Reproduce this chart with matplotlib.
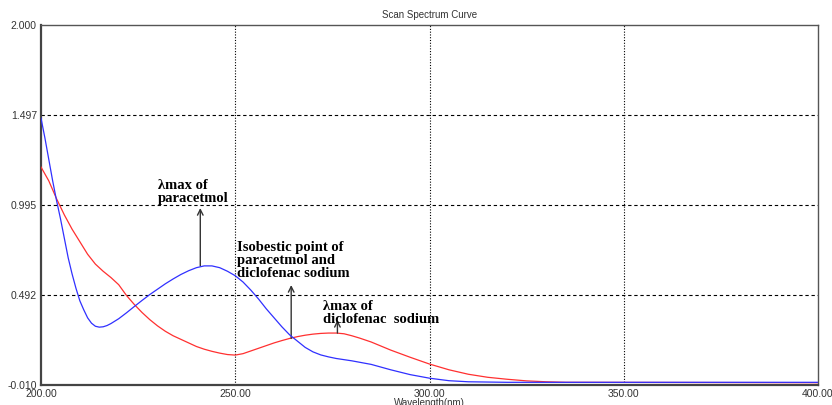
import matplotlib.pyplot as plt
import numpy as np

# absorbance spectra
wl_para = [200, 201, 202, 203, 204, 205, 206, 207, 208, 209, 210, 211, 212, 213, 214, 215,
           216, 217, 218, 220, 222, 224, 226, 228, 230, 232, 234, 236, 238, 240, 242, 244,
           246, 248, 250, 252, 254, 256, 258, 260, 262, 264, 266, 268, 270, 272, 274, 276,
           280, 285, 290, 295, 300, 305, 310, 320, 400]
abs_para = [1.48, 1.37, 1.25, 1.13, 1.02, 0.92, 0.81, 0.70, 0.61, 0.53, 0.46, 0.41, 0.365,
            0.335, 0.318, 0.313, 0.315, 0.322, 0.333, 0.36, 0.393, 0.428, 0.462, 0.495, 0.525,
            0.555, 0.582, 0.607, 0.628, 0.645, 0.655, 0.655, 0.645, 0.625, 0.60, 0.565, 0.52,
            0.47, 0.415, 0.365, 0.315, 0.27, 0.235, 0.20, 0.175, 0.158, 0.147, 0.138, 0.125,
            0.105, 0.075, 0.048, 0.028, 0.014, 0.008, 0.005, 0.005]

wl_diclo = [200, 202, 204, 206, 208, 210, 212, 214, 216, 218, 220, 222, 224, 226, 228, 230,
            232, 234, 236, 238, 240, 242, 244, 246, 248, 250, 252, 254, 256, 258, 260, 262,
            264, 266, 268, 270, 272, 274, 276, 278, 280, 282, 285, 290, 295, 300, 305, 310,
            315, 320, 325, 330, 335, 400]
abs_diclo = [1.207, 1.13, 1.03, 0.94, 0.86, 0.79, 0.72, 0.665, 0.625, 0.59, 0.55, 0.49, 0.44,
             0.395, 0.355, 0.32, 0.29, 0.265, 0.245, 0.225, 0.205, 0.19, 0.178, 0.168, 0.16,
             0.157, 0.165, 0.18, 0.195, 0.21, 0.225, 0.238, 0.25, 0.26, 0.268, 0.274, 0.278,
             0.28, 0.28, 0.276, 0.265, 0.252, 0.23, 0.185, 0.145, 0.107, 0.075, 0.05, 0.033,
             0.022, 0.013, 0.008, 0.005, 0.003]

yticks = [-0.010, 0.492, 0.995, 1.497, 2.000]
xticks = [200, 250, 300, 350, 400]

fig = plt.figure(figsize=(8.32, 4.05), dpi=100)
ax = fig.add_axes([41/832, 1-385/405, (818-41)/832, (385-25)/405])

ax.plot(wl_diclo, abs_diclo, color='#ff3030', lw=0.9, zorder=3)
ax.plot(wl_para, abs_para, color='#3030ff', lw=0.9, zorder=4)

ax.set_xlim(200, 400)
ax.set_ylim(-0.010, 2.000)
ax.set_xticks(xticks)
ax.set_xticklabels(['%.2f' % v for v in xticks])
ax.set_yticks(yticks)
ax.set_yticklabels(['%.3f' % v for v in yticks])
ax.tick_params(length=0, labelsize=7.5, labelcolor='#333333', pad=3)
for lab in ax.get_xticklabels() + ax.get_yticklabels():
    lab.set_family('Liberation Sans')

for v in xticks[1:-1]:
    ax.axvline(v, color='black', ls=(0, (1, 1.5)), lw=0.8, zorder=1)
for v in yticks[1:-1]:
    ax.axhline(v, color='black', ls=(0, (3, 2.5)), lw=0.8, zorder=1)

for s in ['left', 'bottom']:
    ax.spines[s].set_color('#444444')
    ax.spines[s].set_linewidth(1.6)
for s in ['top', 'right']:
    ax.spines[s].set_color('#555555')
    ax.spines[s].set_linewidth(1.0)

fig.text(0.516, 1-15/405, 'Scan Spectrum Curve', ha='center', va='center',
         fontsize=7, color='#333333', family='Liberation Sans')
# the label sits half off the bottom edge, as in the scan
fig.text(0.516, 1.5/405, 'Wavelength(nm)', ha='center', va='center',
         fontsize=7, color='#333333', family='Liberation Sans')

tkw = dict(family='Liberation Serif', fontweight='bold', fontsize=10.5,
           va='top', ha='left', linespacing=1.0, zorder=5)
akw = dict(arrowstyle='->', color='#333333', lw=1.0, shrinkA=0, shrinkB=0)

ax.text(230.2, 1.14, 'λmax of\nparacetmol', **tkw)
ax.annotate('', xy=(241, 0.978), xytext=(241, 0.655), arrowprops=akw)

ax.text(250.5, 0.795, 'Isobestic point of\nparacetmol and\ndiclofenac sodium', **tkw)
ax.annotate('', xy=(264.4, 0.548), xytext=(264.4, 0.25), arrowprops=akw)

ax.text(272.7, 0.465, 'λmax of\ndiclofenac  sodium', **tkw)
ax.annotate('', xy=(276.3, 0.353), xytext=(276.3, 0.28), arrowprops=akw)

fig.savefig('out.png', dpi=100)
